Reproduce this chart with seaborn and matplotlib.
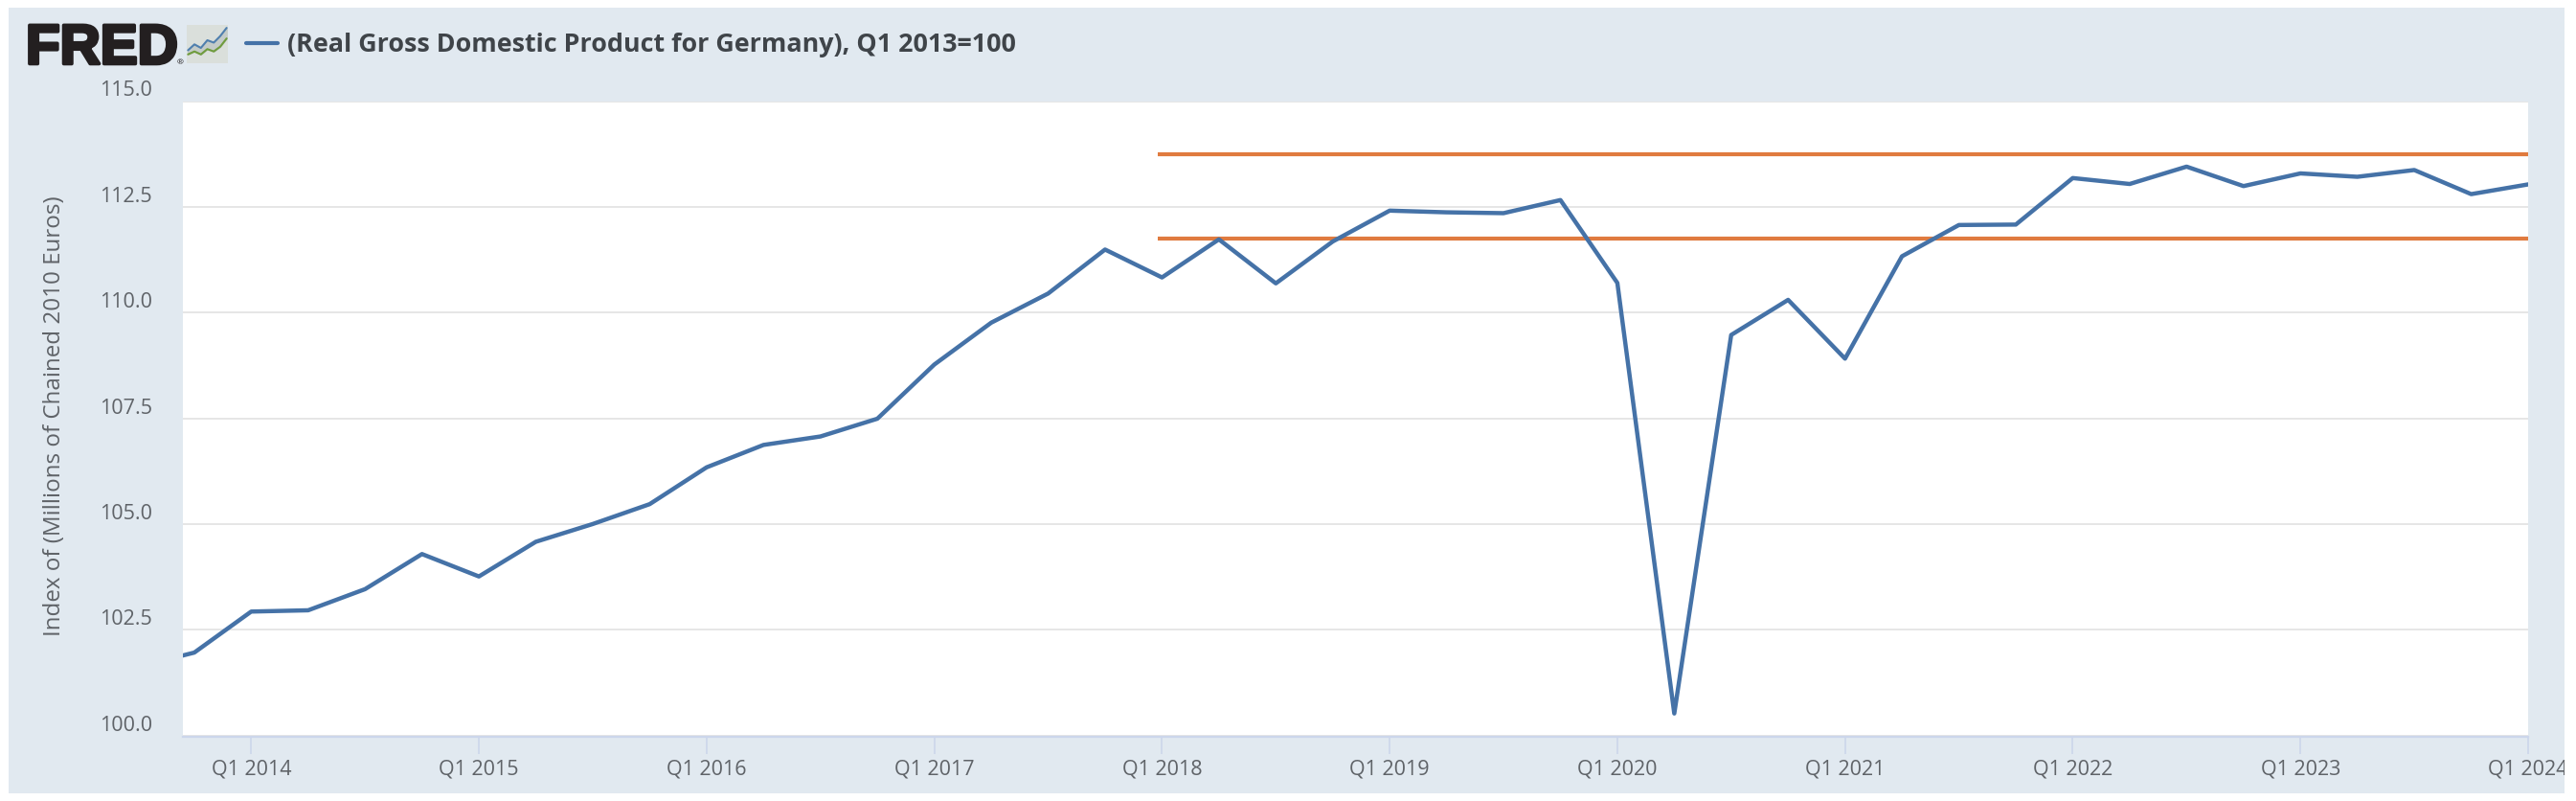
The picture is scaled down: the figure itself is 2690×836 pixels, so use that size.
import matplotlib
matplotlib.use("Agg")
import matplotlib.pyplot as plt
import matplotlib.patheffects as pe
from matplotlib.lines import Line2D
from matplotlib.patches import Rectangle
from matplotlib.transforms import Bbox
import seaborn as sns
import pandas as pd

# values
quarters = [
    "Q3 2013", "Q4 2013",
    "Q1 2014", "Q2 2014", "Q3 2014", "Q4 2014",
    "Q1 2015", "Q2 2015", "Q3 2015", "Q4 2015",
    "Q1 2016", "Q2 2016", "Q3 2016", "Q4 2016",
    "Q1 2017", "Q2 2017", "Q3 2017", "Q4 2017",
    "Q1 2018", "Q2 2018", "Q3 2018", "Q4 2018",
    "Q1 2019", "Q2 2019", "Q3 2019", "Q4 2019",
    "Q1 2020", "Q2 2020", "Q3 2020", "Q4 2020",
    "Q1 2021", "Q2 2021", "Q3 2021", "Q4 2021",
    "Q1 2022", "Q2 2022", "Q3 2022", "Q4 2022",
    "Q1 2023", "Q2 2023", "Q3 2023", "Q4 2023",
    "Q1 2024",
]
gdp_index = [
    101.62, 101.96,
    102.93, 102.96, 103.46, 104.29,
    103.76, 104.58, 105.00, 105.47,
    106.34, 106.87, 107.07, 107.49,
    108.77, 109.76, 110.45, 111.49,
    110.83, 111.73, 110.69, 111.68,
    112.41, 112.37, 112.35, 112.66,
    110.70, 100.52, 109.47, 110.30,
    108.91, 111.33, 112.07, 112.08,
    113.18, 113.04, 113.45, 112.99,
    113.29, 113.21, 113.37, 112.80,
    113.03,
]
upper_level = 113.74
lower_level = 111.75
level_start = 2017.98
level_end = 2024.0
y_ticks = [100.0, 102.5, 105.0, 107.5, 110.0, 112.5, 115.0]
x_tick_labels = ["Q1 2014", "Q1 2015", "Q1 2016", "Q1 2017", "Q1 2018", "Q1 2019",
                 "Q1 2020", "Q1 2021", "Q1 2022", "Q1 2023", "Q1 2024"]
title = "(Real Gross Domestic Product for Germany), Q1 2013=100"
y_label = "Index of (Millions of Chained 2010 Euros)"

W, H = 2690, 836
PANEL = "#e1e9f0"
BLUE = "#4572a7"
ORANGE = "#e07b3f"
TEXT = "#5f6368"


def to_year(q):
    return int(q[3:]) + (int(q[1]) - 1) / 4


def fig_x(px):
    return px / W


def fig_y(px):
    return 1 - px / H


sns.set_theme(style="white")
plt.rcParams["font.family"] = ["Open Sans", "DejaVu Sans"]

df = pd.DataFrame({"year": [to_year(q) for q in quarters], "value": gdp_index})
levels = pd.DataFrame({
    "year": [level_start, level_end] * 2,
    "value": [upper_level] * 2 + [lower_level] * 2,
    "level": ["upper"] * 2 + ["lower"] * 2,
})

fig = plt.figure(figsize=(W / 100, H / 100), dpi=100, facecolor="white")
panel = Rectangle((fig_x(9), fig_y(828)), (2678 - 9) / W, (828 - 8) / H,
                  transform=fig.transFigure, facecolor=PANEL, edgecolor="none", zorder=-5)
fig.patches.append(panel)

left, right, top, bottom = 191, 2640, 105.5, 768.5
ax = fig.add_axes([fig_x(left), fig_y(bottom), (right - left) / W, (bottom - top) / H])
ax.set_facecolor("white")

sns.lineplot(data=levels, x="year", y="value", units="level", estimator=None,
             color=ORANGE, lw=3.0, ax=ax, zorder=3, solid_capstyle="butt")
sns.lineplot(data=df, x="year", y="value", color=BLUE, lw=3.2, ax=ax, zorder=4)

ax.set_xlim(2013.70, 2024.0)
ax.set_ylim(100.0 - 0.02, 115.0)
ax.set_xlabel("")
ax.set_ylabel("")

ax.set_yticks(y_ticks)
ax.set_yticklabels([f"{v:.1f}" for v in y_ticks], va="bottom")
ax.tick_params(axis="y", length=0, pad=23, labelsize=15.5, labelcolor=TEXT)
ax.yaxis.grid(True, color="#e6e6e6", lw=1.4)
ax.set_axisbelow(True)

ax.set_xticks([to_year(q) for q in x_tick_labels])
ax.set_xticklabels(x_tick_labels)
ax.tick_params(axis="x", bottom=True, length=13, width=1.2, color="#ccd6eb", pad=4,
               labelsize=15.5, labelcolor=TEXT)

for name in ("top", "left", "right"):
    ax.spines[name].set_visible(False)
ax.spines["bottom"].set_color("#ccd6eb")
ax.spines["bottom"].set_linewidth(1.6)

# last tick label runs into the panel edge and is cut there
fig.canvas.draw()
ax.get_xticklabels()[-1].set_clip_on(True)
ax.get_xticklabels()[-1].set_clip_box(Bbox([[0, 0], [2678, H]]))

fig.text(fig_x(57), fig_y(434), y_label, rotation=90, ha="center", va="center",
         fontsize=17.4, color=TEXT)

# header: logo, legend key and title
fig.text(fig_x(27), fig_y(66.5), "FRED", family="Liberation Sans", weight="bold", fontsize=42,
         color="#231f20", va="baseline", ha="left",
         path_effects=[pe.withStroke(linewidth=2.6, foreground="#231f20")])
fig.text(fig_x(185), fig_y(67), "®", fontsize=6, color="#231f20", va="baseline")

icon = fig.add_axes([fig_x(195), fig_y(66), 43 / W, 40 / H])
icon.set_facecolor("#dadfdb")
icon.set_xticks([])
icon.set_yticks([])
for s in icon.spines.values():
    s.set_visible(False)
icon_x = [0, 1, 2, 3, 4, 5, 6]
icon_blue = [2.2, 3.2, 2.6, 3.9, 3.5, 4.6, 6.0]
icon_green = [1.5, 2.0, 1.5, 2.4, 2.0, 2.8, 4.2]
icon.fill_between(icon_x, icon_green, icon_blue, color="#c4cbc8")
sns.lineplot(x=icon_x, y=icon_blue, color="#4f7fae", lw=1.5, ax=icon)
sns.lineplot(x=icon_x, y=icon_green, color="#6f9c3d", lw=1.5, ax=icon)
icon.set_xlim(-0.2, 6.2)
icon.set_ylim(0, 6.5)

fig.add_artist(Line2D([fig_x(257), fig_x(290)], [fig_y(45), fig_y(45)], color=BLUE, lw=3.0,
                      transform=fig.transFigure))
fig.text(fig_x(300), fig_y(47.5), title, fontsize=19.4, weight="bold", color="#3f4449",
         va="center", ha="left")

fig.savefig("out.png", dpi=100, facecolor="white")
